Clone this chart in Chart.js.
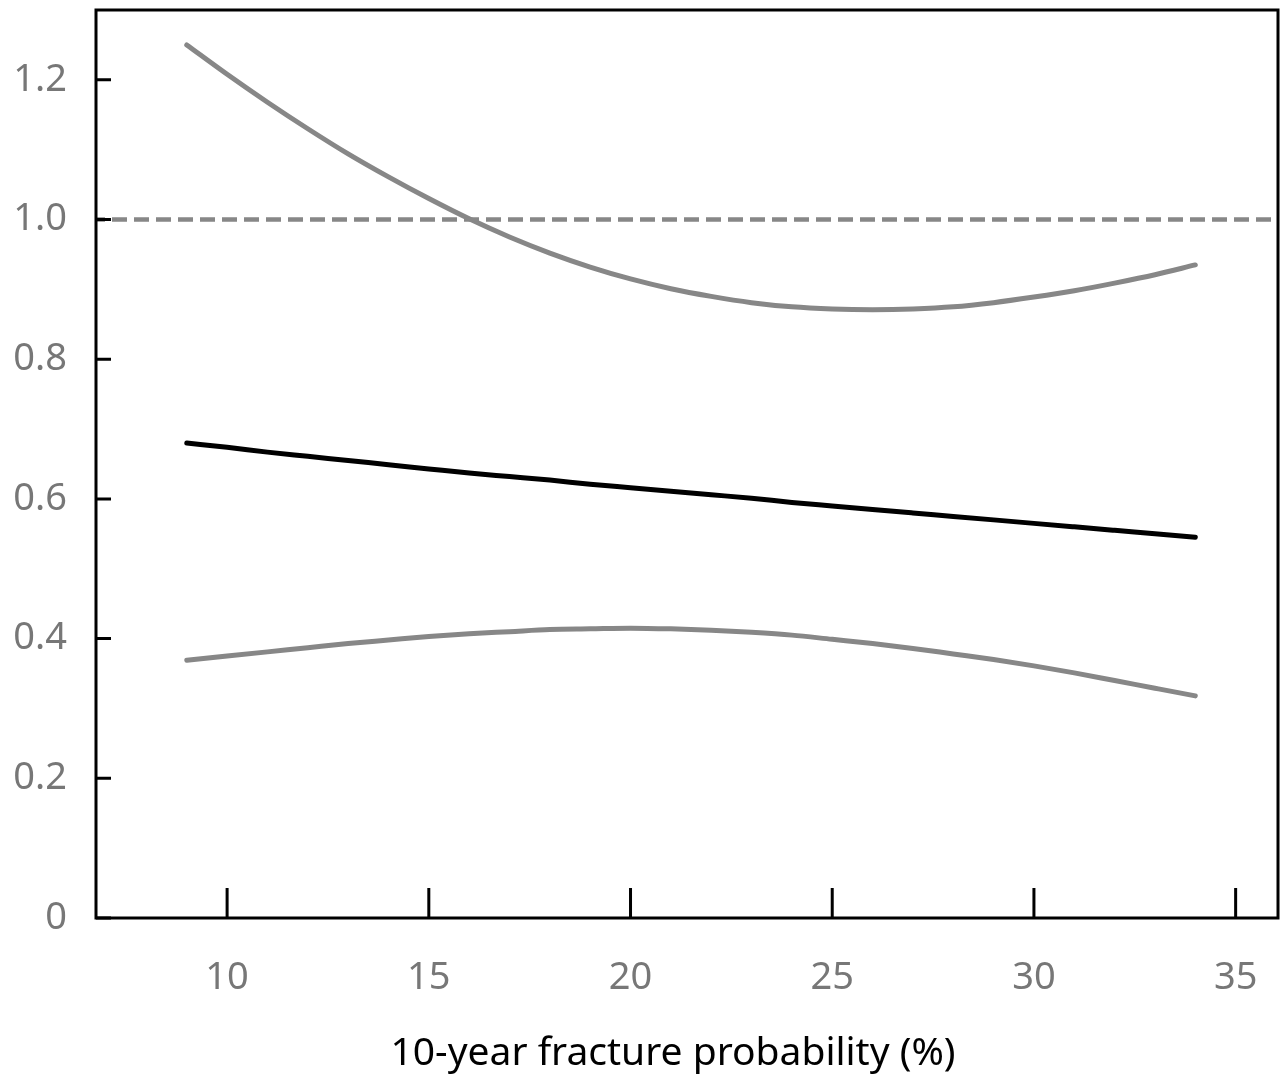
<!DOCTYPE html>
<html>
<head>
<meta charset="utf-8">
<script src="https://cdn.jsdelivr.net/npm/chart.js@4.4.1/dist/chart.umd.min.js"></script>
<style>
  html, body { margin: 0; padding: 0; background: #fff; }
  #wrap { width: 1288px; height: 1083px; }
</style>
</head>
<body>
<div id="wrap"><canvas id="chart" width="1288" height="1083"></canvas></div>
<script>
// values
var xValues = [9, 10, 11, 12, 13, 14, 15, 16, 17, 18, 19, 20, 21, 22, 23, 24, 25, 26, 27, 28, 29, 30, 31, 32, 33, 34];
var upperCI = [1.250, 1.208, 1.168, 1.130, 1.094, 1.061, 1.030, 1.001, 0.975, 0.952, 0.932, 0.915, 0.901, 0.890, 0.881, 0.875, 0.872, 0.871, 0.872, 0.875, 0.881, 0.889, 0.898, 0.909, 0.921, 0.935];
var estimate = [0.680, 0.674, 0.667, 0.661, 0.655, 0.649, 0.643, 0.637, 0.632, 0.627, 0.621, 0.616, 0.611, 0.606, 0.601, 0.595, 0.590, 0.585, 0.580, 0.575, 0.570, 0.565, 0.560, 0.555, 0.550, 0.545];
var lowerCI = [0.369, 0.375, 0.381, 0.387, 0.393, 0.398, 0.403, 0.407, 0.410, 0.413, 0.414, 0.415, 0.414, 0.412, 0.409, 0.405, 0.399, 0.393, 0.386, 0.378, 0.370, 0.361, 0.351, 0.340, 0.329, 0.318];
var refValue = 1.0;
var xRange = [6.75, 36.05];
var yRange = [0, 1.3];
var xTicks = [10, 15, 20, 25, 30, 35];
var yTicks = [0, 0.2, 0.4, 0.6, 0.8, 1.0, 1.2];
var xTitle = '10-year fracture probability (%)';

function pts(ys) {
  return xValues.map(function (x, i) { return { x: x, y: ys[i] }; });
}

var GRAY = '#878787';
var FONT = '"Noto Sans", "Open Sans", sans-serif';

// box round the plot, inward tick marks and the axis title
var frame = {
  id: 'frame',
  afterDraw: function (chart) {
    var ctx = chart.ctx, a = chart.chartArea;
    var xs = chart.scales.x, ys = chart.scales.y;
    ctx.save();
    ctx.strokeStyle = '#000';
    ctx.lineWidth = 3;
    ctx.strokeRect(a.left, a.top, a.right - a.left, a.bottom - a.top);
    ctx.beginPath();
    xTicks.forEach(function (v) {
      var px = xs.getPixelForValue(v);
      ctx.moveTo(px, a.bottom);
      ctx.lineTo(px, a.bottom - 30);
    });
    yTicks.forEach(function (v) {
      var py = ys.getPixelForValue(v);
      ctx.moveTo(a.left, py);
      ctx.lineTo(a.left + 15, py);
    });
    ctx.stroke();

    ctx.fillStyle = '#000';
    ctx.font = '39px ' + FONT;
    ctx.textAlign = 'center';
    ctx.textBaseline = 'middle';
    ctx.fillText(xTitle, 673, 1054);
    ctx.restore();
  }
};

function curve(ys, color) {
  return {
    data: pts(ys),
    borderColor: color,
    borderWidth: 5,
    borderCapStyle: 'round',
    cubicInterpolationMode: 'monotone',
    pointRadius: 0
  };
}

var ctx = document.getElementById('chart').getContext('2d');
new Chart(ctx, {
  type: 'line',
  data: {
    datasets: [{
      data: [{ x: xRange[0], y: refValue }, { x: xRange[1], y: refValue }],
      borderColor: GRAY,
      borderWidth: 4.5,
      borderDash: [15, 7],
      borderDashOffset: -16,
      pointRadius: 0
    },
    curve(upperCI, GRAY),
    curve(estimate, '#000'),
    curve(lowerCI, GRAY)]
  },
  options: {
    responsive: false,
    animation: false,
    layout: { padding: { top: 10, right: 10, left: 0, bottom: 0 } },
    plugins: { legend: { display: false }, tooltip: { enabled: false } },
    scales: {
      x: {
        type: 'linear',
        min: xRange[0],
        max: xRange[1],
        grid: { display: false, drawTicks: false },
        border: { display: false },
        afterBuildTicks: function (s) { s.ticks = xTicks.map(function (v) { return { value: v }; }); },
        afterFit: function (s) { s.height = 165; s.paddingLeft = 0; s.paddingRight = 0; },
        ticks: {
          padding: 37,
          color: '#777',
          font: { family: FONT, size: 38 },
          maxRotation: 0,
          callback: function (v) { return String(v); }
        }
      },
      y: {
        min: yRange[0],
        max: yRange[1],
        grid: { display: false, drawTicks: false },
        border: { display: false },
        afterBuildTicks: function (s) { s.ticks = yTicks.map(function (v) { return { value: v }; }); },
        afterFit: function (s) { s.width = 96; s.paddingTop = 0; s.paddingBottom = 0; },
        ticks: {
          padding: 29,
          color: '#777',
          font: { family: FONT, size: 38 },
          callback: function (v) { return v === 0 ? '0' : v.toFixed(1); }
        }
      }
    }
  },
  plugins: [frame]
});
</script>
</body>
</html>
